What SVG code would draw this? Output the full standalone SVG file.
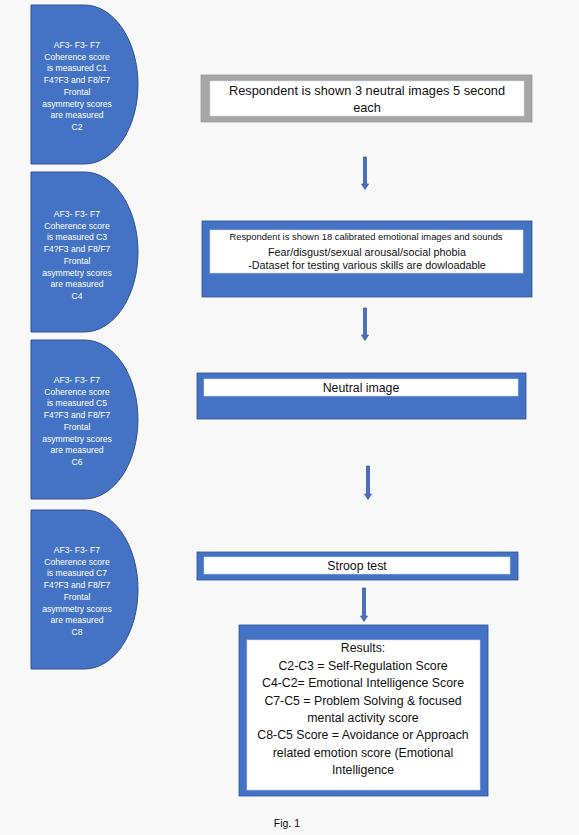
<svg xmlns="http://www.w3.org/2000/svg" width="579" height="835" viewBox="0 0 579 835">
<style>
.bg{fill:#f8f8f9}
.d{fill:#4472c4;stroke:#2f528f;stroke-width:1}
.dt{font-family:"Liberation Sans",Arial,sans-serif;font-size:8.6px;fill:#ffffff;text-anchor:middle}
.frame{fill:#4472c4;stroke:#2f528f;stroke-width:0.8}
.gray{fill:#a6a6a6;stroke:#999999;stroke-width:0.8}
.inner{fill:#ffffff;stroke:#d0d8e8;stroke-width:0.6}
.t{font-family:"Liberation Sans",Arial,sans-serif;fill:#111111;text-anchor:middle}
.arr{fill:#4472c4;stroke:#2f528f;stroke-width:0.7}
</style>
<rect class="bg" x="0" y="0" width="579" height="835"/>

<g id="side1">
<path class="d" d="M31,5 H84.5 A53.5,79.5 0 0 1 84.5,164 H31 Z"/>
<text class="dt" x="77" y="48">AF3- F3- F7</text>
<text class="dt" x="77" y="59.7">Coherence score</text>
<text class="dt" x="77" y="71.4">is measured C1</text>
<text class="dt" x="77" y="83.1">F4?F3 and F8/F7</text>
<text class="dt" x="77" y="94.8">Frontal</text>
<text class="dt" x="77" y="106.5">asymmetry scores</text>
<text class="dt" x="77" y="118.2">are measured</text>
<text class="dt" x="77" y="129.9">C2</text>
</g>

<g id="side2">
<path class="d" d="M31,172 H84.5 A53.5,80 0 0 1 84.5,332 H31 Z"/>
<text class="dt" x="77" y="217">AF3- F3- F7</text>
<text class="dt" x="77" y="228.7">Coherence score</text>
<text class="dt" x="77" y="240.4">is measured C3</text>
<text class="dt" x="77" y="252.1">F4?F3 and F8/F7</text>
<text class="dt" x="77" y="263.8">Frontal</text>
<text class="dt" x="77" y="275.5">asymmetry scores</text>
<text class="dt" x="77" y="287.2">are measured</text>
<text class="dt" x="77" y="298.9">C4</text>
</g>

<g id="side3">
<path class="d" d="M31,340 H84.5 A53.5,79.5 0 0 1 84.5,499 H31 Z"/>
<text class="dt" x="77" y="383">AF3- F3- F7</text>
<text class="dt" x="77" y="394.7">Coherence score</text>
<text class="dt" x="77" y="406.4">is measured C5</text>
<text class="dt" x="77" y="418.1">F4?F3 and F8/F7</text>
<text class="dt" x="77" y="429.8">Frontal</text>
<text class="dt" x="77" y="441.5">asymmetry scores</text>
<text class="dt" x="77" y="453.2">are measured</text>
<text class="dt" x="77" y="464.9">C6</text>
</g>

<g id="side4">
<path class="d" d="M31,510 H84.5 A53.5,79.5 0 0 1 84.5,669 H31 Z"/>
<text class="dt" x="77" y="553">AF3- F3- F7</text>
<text class="dt" x="77" y="564.7">Coherence score</text>
<text class="dt" x="77" y="576.4">is measured C7</text>
<text class="dt" x="77" y="588.1">F4?F3 and F8/F7</text>
<text class="dt" x="77" y="599.8">Frontal</text>
<text class="dt" x="77" y="611.5">asymmetry scores</text>
<text class="dt" x="77" y="623.2">are measured</text>
<text class="dt" x="77" y="634.9">C8</text>
</g>

<g id="step1">
<rect class="gray" x="201" y="75" width="331" height="47"/>
<rect class="inner" x="210" y="81" width="314" height="35"/>
<text class="t" x="367" y="94.5" font-size="12.8">Respondent is shown 3 neutral images 5 second</text>
<text class="t" x="367" y="111.5" font-size="12.8">each</text>
</g>

<g id="step2">
<rect class="frame" x="202" y="221" width="330" height="76"/>
<rect class="inner" x="210" y="230" width="313" height="43"/>
<text class="t" x="366" y="240.3" font-size="9.4">Respondent is shown 18 calibrated emotional images and sounds</text>
<text class="t" x="367" y="255.8" font-size="10.8">Fear/disgust/sexual arousal/social phobia</text>
<text class="t" x="367" y="269.3" font-size="10.8">-Dataset for testing various skills are dowloadable</text>
</g>

<g id="step3">
<rect class="frame" x="197" y="373" width="329" height="46"/>
<rect class="inner" x="204" y="379" width="314" height="17"/>
<text class="t" x="361" y="392.3" font-size="12.3">Neutral image</text>
</g>

<g id="step4">
<rect class="frame" x="197" y="552" width="321" height="28"/>
<rect class="inner" x="204" y="557" width="306" height="17"/>
<text class="t" x="357" y="570.3" font-size="12.3">Stroop test</text>
</g>

<g id="results">
<rect class="frame" x="239" y="625" width="249" height="171"/>
<rect class="inner" x="247" y="640" width="233" height="150"/>
<text class="t" x="363" y="652.3" font-size="12.3">Results:</text>
<text class="t" x="363" y="669.7" font-size="12.3">C2-C3 = Self-Regulation Score</text>
<text class="t" x="363" y="687.1" font-size="12.3">C4-C2= Emotional Intelligence Score</text>
<text class="t" x="363" y="704.5" font-size="12.3">C7-C5 = Problem Solving &amp; focused</text>
<text class="t" x="363" y="721.9" font-size="12.3">mental activity score</text>
<text class="t" x="363" y="739.3" font-size="12.3">C8-C5 Score = Avoidance or Approach</text>
<text class="t" x="363" y="756.7" font-size="12.3">related emotion score (Emotional</text>
<text class="t" x="363" y="774.1" font-size="12.3">Intelligence</text>
</g>

<g id="connectors">
<polygon class="arr" points="363.5,157 366.5,157 366.5,184 368.5,184 365,189.5 361.5,184 363.5,184"/>
<polygon class="arr" points="363.5,308 366.5,308 366.5,335 368.5,335 365,340.5 361.5,335 363.5,335"/>
<polygon class="arr" points="366.5,466 369.5,466 369.5,494 371.5,494 368,499.5 364.5,494 366.5,494"/>
<polygon class="arr" points="362.5,588 365.5,588 365.5,616 367.5,616 364,621.5 360.5,616 362.5,616"/>
</g>

<text class="t" x="287" y="826.5" font-size="10.5" fill="#222222">Fig. 1</text>
</svg>
